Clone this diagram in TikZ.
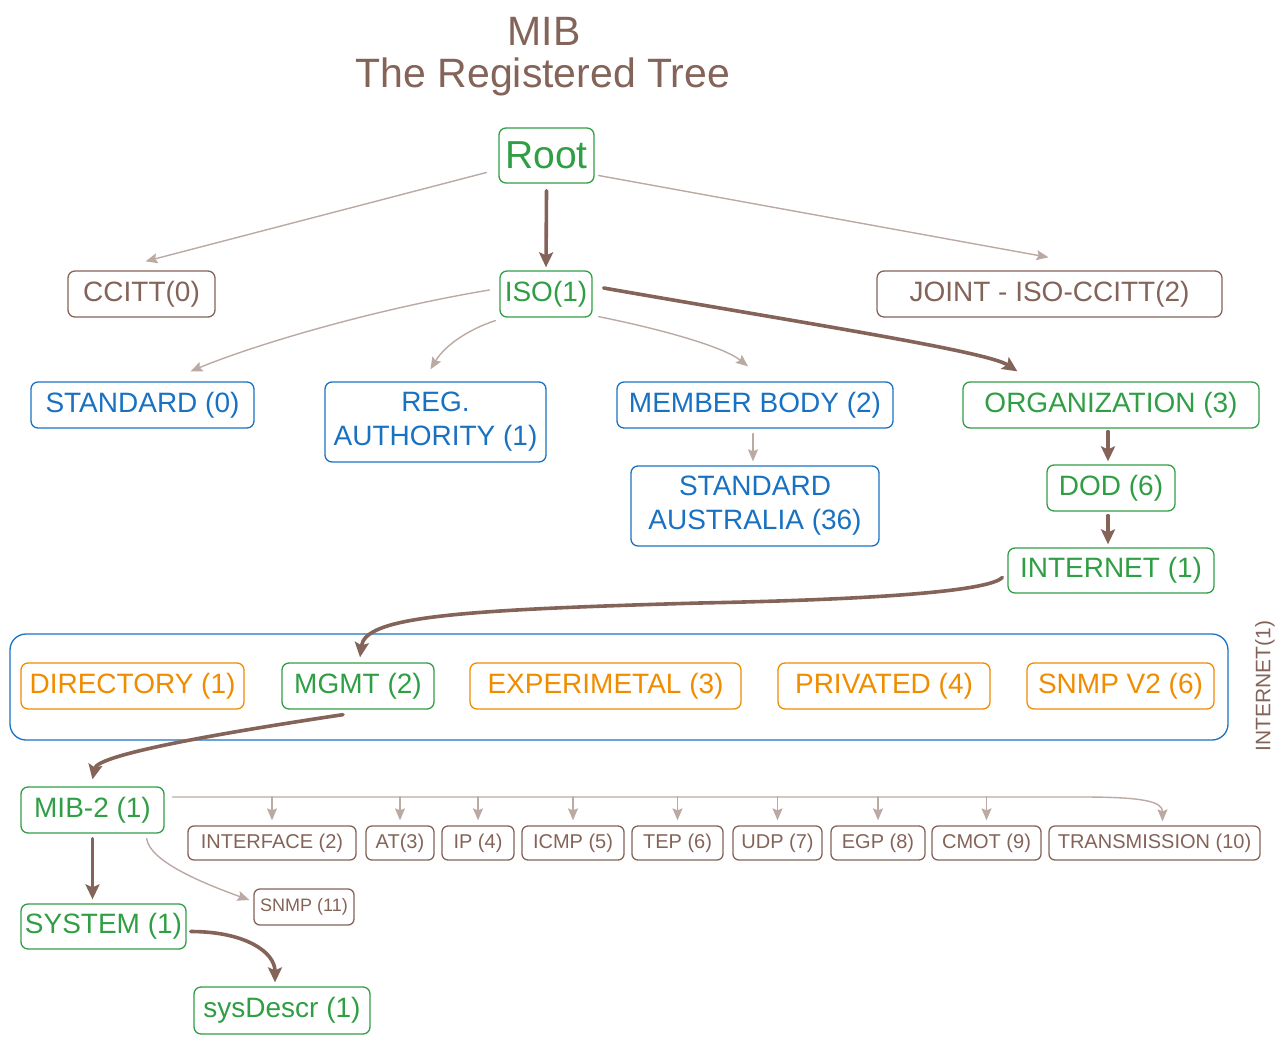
\documentclass[tikz,border=0pt]{standalone}
\usepackage{fontspec}
\setmainfont{Liberation Sans}
\usetikzlibrary{arrows.meta}
\definecolor{exgreen}{HTML}{2F9E44}
\definecolor{exblue}{HTML}{1971C2}
\definecolor{exorange}{HTML}{F08C00}
\definecolor{exbrown}{HTML}{846358}
\tikzset{
  box/.style={draw, rounded corners=7pt, line width=1.3pt, inner sep=0pt, align=center,
    font=\fontsize{28}{34}\selectfont},
  gbox/.style={box, draw=exgreen, text=exgreen},
  bbox/.style={box, draw=exblue, text=exblue},
  obox/.style={box, draw=exorange, text=exorange},
  rbox/.style={box, draw=exbrown, text=exbrown},
  sbox/.style={rbox, rounded corners=6pt, font=\fontsize{20}{23}\selectfont},
  thickarr/.style={draw=exbrown, line width=3.6pt, line cap=round,
    -{Stealth[length=15pt,width=14pt,inset=3pt]}},
  thinarr/.style={draw=exbrown!55, line width=1.4pt, line cap=round,
    -{Stealth[length=12pt,width=10pt,inset=2pt]}},
}
\begin{document}
\begin{tikzpicture}[x=1pt,y=-1pt]
\useasboundingbox (0,0) rectangle (1287,1043);
% title
\node[text=exbrown, font=\fontsize{41}{48}\selectfont] (title1) at (544,31) {MIB};
\node[text=exbrown, font=\fontsize{41}{48}\selectfont] (title2) at (543,77) {The Registered Tree};
% level 0/1
\node[gbox, minimum width=95pt, minimum height=55pt, font=\fontsize{39}{44}\selectfont] (root) at (546.5,155.5) {Root};
\node[rbox, minimum width=147pt, minimum height=46pt] (ccitt) at (141.5,294) {CCITT(0)};
\node[gbox, minimum width=92pt, minimum height=46pt] (iso) at (546,294) {ISO(1)};
\node[rbox, minimum width=345pt, minimum height=46pt] (joint) at (1049.5,294) {JOINT - ISO-CCITT(2)};
% level 2
\node[bbox, minimum width=223pt, minimum height=46pt] (std0) at (142.5,405) {STANDARD (0)};
\node[bbox, minimum width=221pt, minimum height=80pt] (reg) at (435.5,422) {REG.\\AUTHORITY (1)};
\node[bbox, minimum width=276pt, minimum height=46pt] (member) at (755,405) {MEMBER BODY (2)};
\node[gbox, minimum width=296pt, minimum height=46pt] (org) at (1111,405) {ORGANIZATION (3)};
\node[bbox, minimum width=248pt, minimum height=80pt] (stdaus) at (755,506) {STANDARD\\AUSTRALIA (36)};
\node[gbox, minimum width=128pt, minimum height=46pt] (dod) at (1111,488) {DOD (6)};
\node[gbox, minimum width=206pt, minimum height=45pt] (internet) at (1111,570.5) {INTERNET (1)};
% container
\node[draw=exblue, line width=1.3pt, rounded corners=16pt, minimum width=1218pt, minimum height=106pt, inner sep=0pt] (inetbox) at (619,687) {};
\node[text=exbrown, rotate=90, font=\fontsize{21}{24}\selectfont] (inetlabel) at (1265,686) {INTERNET(1)};
\node[obox, minimum width=223pt, minimum height=46pt] (directory) at (132.5,686) {DIRECTORY (1)};
\node[gbox, minimum width=152pt, minimum height=46pt] (mgmt) at (358,686) {MGMT (2)};
\node[obox, minimum width=271pt, minimum height=46pt] (experimetal) at (605.5,686) {EXPERIMETAL (3)};
\node[obox, minimum width=212pt, minimum height=46pt] (privated) at (884,686) {PRIVATED (4)};
\node[obox, minimum width=187pt, minimum height=46pt] (snmpv2) at (1120.5,686) {SNMP V2 (6)};
% mib-2
\node[gbox, minimum width=143pt, minimum height=46pt] (mib2) at (92.5,810) {MIB-2 (1)};
\node[gbox, minimum width=165pt, minimum height=45pt] (system) at (103.5,926.5) {SYSTEM (1)};
\node[gbox, minimum width=176pt, minimum height=47pt] (sysdescr) at (282,1010.5) {sysDescr (1)};
\node[sbox, minimum width=168pt, minimum height=34pt] (interface) at (272,843) {INTERFACE (2)};
\node[sbox, minimum width=68pt, minimum height=34pt] (at) at (400,843) {AT(3)};
\node[sbox, minimum width=72pt, minimum height=34pt] (ip) at (478,843) {IP (4)};
\node[sbox, minimum width=102pt, minimum height=34pt] (icmp) at (573,843) {ICMP (5)};
\node[sbox, minimum width=91pt, minimum height=34pt] (tep) at (677.5,843) {TEP (6)};
\node[sbox, minimum width=89pt, minimum height=34pt] (udp) at (777.5,843) {UDP (7)};
\node[sbox, minimum width=94pt, minimum height=34pt] (egp) at (878,843) {EGP (8)};
\node[sbox, minimum width=109pt, minimum height=34pt] (cmot) at (986.5,843) {CMOT (9)};
\node[sbox, minimum width=211pt, minimum height=34pt] (transmission) at (1154.5,843) {TRANSMISSION (10)};
\node[sbox, minimum width=100pt, minimum height=36pt, font=\fontsize{18}{21}\selectfont] (snmp11) at (304,907) {SNMP (11)};
% connectors
\draw[thinarr] ([shift={(-12,17)}]root.west) -- ([shift={(4,-9)}]ccitt.north);
\draw[thickarr] ([shift={(0,7)}]root.south) -- ([shift={(0,-3)}]iso.north);
\draw[thinarr] ([shift={(4,20)}]root.east) -- ([shift={(-1,-13)}]joint.north);
\draw[thinarr] ([shift={(-10,-4)}]iso.west) .. controls +(-120,20) and +(60,-25) .. ([shift={(48,-10)}]std0.north);
\draw[thinarr] ([shift={(-4,3)}]iso.south west) .. controls +(-25,8) and +(15,-25) .. ([shift={(-5,-12)}]reg.north);
\draw[thinarr] ([shift={(6,-1)}]iso.south east) .. controls +(60,12) and +(-25,-20) .. ([shift={(-7,-15)}]member.north);
\draw[thickarr] ([shift={(11,-6)}]iso.east) .. controls +(200,35) and +(-30,-20) .. ([shift={(55,-10)}]org.north west);
\draw[thinarr] ([shift={(-2,5)}]member.south) -- ([shift={(-2,-4)}]stdaus.north);
\draw[thickarr] ([shift={(-3,3)}]org.south) -- ([shift={(-3,-3)}]dod.north);
\draw[thickarr] ([shift={(-3,4)}]dod.south) -- ([shift={(-3,-3)}]internet.north);
\draw[thickarr] ([shift={(-5,7)}]internet.west) .. controls +(-18,18) and +(100,-2) .. (700,603)
  .. controls +(-250,7) and +(5,-40) .. ([shift={(2,-5)}]mgmt.north);
\draw[thickarr] ([shift={(-15,5)}]mgmt.south) .. controls +(-120,18) and +(5,-25) .. ([shift={(0,-7)}]mib2.north);
\draw[thickarr] ([shift={(0,5)}]mib2.south) -- ([shift={(0,-4)}]mib2.south |- system.north);
\draw[thinarr] ([shift={(-18,5)}]mib2.south east) .. controls +(3,22) and +(-50,-18) .. ([shift={(-4,-7)}]snmp11.west);
\draw[thickarr] ([shift={(4,5)}]system.east) .. controls +(55,0) and +(0,-30) .. ([shift={(-7,-4)}]sysdescr.north);
% bus
\coordinate (bus) at ([shift={(8,-13)}]mib2.east);
\draw[thinarr] (bus) -- ++(910,0) .. controls +(60,0) and +(0,-20) .. ([shift={(8,-4)}]transmission.north);
\foreach \c in {interface,at,ip,icmp,tep,udp,egp,cmot}
  \draw[thinarr] (bus -| \c.north) -- ([shift={(0,-5)}]\c.north);
\end{tikzpicture}
\end{document}
